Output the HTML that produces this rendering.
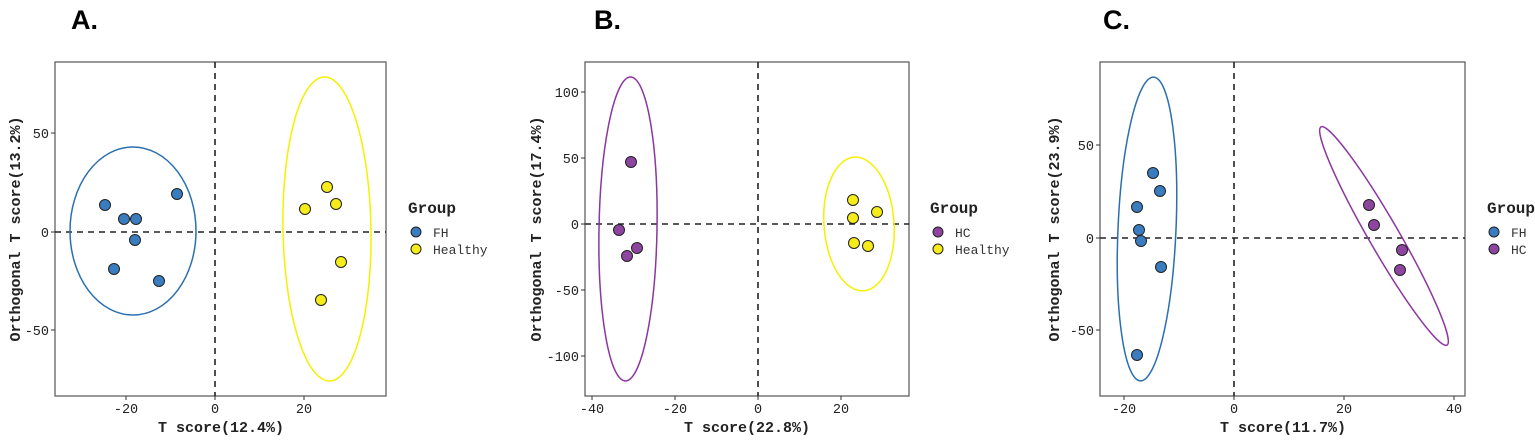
<!DOCTYPE html>
<html><head><meta charset="utf-8"><style>
body{margin:0;background:#fff}
svg text{font-family:"Liberation Mono",monospace;fill:#222}
.tk{font-size:13.5px;fill:#333}
.ax{font-size:15px;font-weight:bold}
.ttl{font-family:"Liberation Sans",sans-serif;font-size:27px;font-weight:bold;fill:#000}
.lg{font-size:16px;font-weight:bold}
.lt{font-size:13px;fill:#333}
.d{stroke:#222;stroke-width:1.6;stroke-dasharray:6,5;fill:none}
.bx{fill:none;stroke:#555;stroke-width:1.2}
.b{fill:#3a7cc0;stroke:#222;stroke-width:1}
.y{fill:#f5ec1a;stroke:#222;stroke-width:1}
.p{fill:#8d45a0;stroke:#222;stroke-width:1}
</style></head><body>
<svg width="1535" height="438" viewBox="0 0 1535 438">
<!-- Panel A -->
<text class="ttl" x="71" y="29">A.</text>
<rect class="bx" x="55" y="62" width="331" height="334"/>
<line class="d" x1="215" y1="62" x2="215" y2="396"/>
<line class="d" x1="55" y1="232" x2="386" y2="232"/>
<ellipse cx="133" cy="231" rx="63" ry="84" fill="none" stroke="#2a6fb0" stroke-width="1.5"/>
<ellipse cx="327" cy="229" rx="44" ry="152" fill="none" stroke="#f5f000" stroke-width="1.5" transform="rotate(-1 327 229)"/>
<g class="b"><circle cx="105" cy="205" r="5.5"/><circle cx="124" cy="219" r="5.5"/><circle cx="136" cy="219" r="5.5"/><circle cx="135" cy="240" r="5.5"/><circle cx="114" cy="269" r="5.5"/><circle cx="159" cy="281" r="5.5"/><circle cx="177" cy="194" r="5.5"/></g>
<g class="y"><circle cx="305" cy="209" r="5.5"/><circle cx="327" cy="187" r="5.5"/><circle cx="336" cy="204" r="5.5"/><circle cx="341" cy="262" r="5.5"/><circle cx="321" cy="300" r="5.5"/></g>
<g stroke="#333"><line x1="126" y1="396" x2="126" y2="400"/><line x1="215" y1="396" x2="215" y2="400"/><line x1="304" y1="396" x2="304" y2="400"/><line x1="51" y1="133" x2="55" y2="133"/><line x1="51" y1="232" x2="55" y2="232"/><line x1="51" y1="330" x2="55" y2="330"/></g>
<g class="tk" text-anchor="middle"><text x="126" y="413">-20</text><text x="215" y="413">0</text><text x="304" y="413">20</text></g>
<g class="tk" text-anchor="end"><text x="49" y="138">50</text><text x="49" y="237">0</text><text x="49" y="335">-50</text></g>
<text class="ax" x="221" y="432" text-anchor="middle">T score(12.4%)</text>
<text class="ax" transform="translate(20 229) rotate(-90)" text-anchor="middle">Orthogonal T score(13.2%)</text>
<text class="lg" x="408" y="213">Group</text>
<circle class="b" cx="416" cy="232" r="5"/><circle class="y" cx="416" cy="249" r="5"/>
<text class="lt" x="433" y="237">FH</text><text class="lt" x="433" y="254">Healthy</text>

<!-- Panel B -->
<text class="ttl" x="594" y="29">B.</text>
<rect class="bx" x="585" y="62" width="324" height="334"/>
<line class="d" x1="758" y1="62" x2="758" y2="396"/>
<line class="d" x1="585" y1="224" x2="909" y2="224"/>
<ellipse cx="628" cy="229" rx="29" ry="152" fill="none" stroke="#8d35a0" stroke-width="1.5" transform="rotate(1 628 229)"/>
<ellipse cx="859" cy="224" rx="35" ry="67" fill="none" stroke="#f5f000" stroke-width="1.5" transform="rotate(-4 859 224)"/>
<g class="p"><circle cx="631" cy="162" r="5.5"/><circle cx="619" cy="230" r="5.5"/><circle cx="637" cy="248" r="5.5"/><circle cx="627" cy="256" r="5.5"/></g>
<g class="y"><circle cx="853" cy="200" r="5.5"/><circle cx="853" cy="218" r="5.5"/><circle cx="877" cy="212" r="5.5"/><circle cx="854" cy="243" r="5.5"/><circle cx="868" cy="246" r="5.5"/></g>
<g stroke="#333"><line x1="592" y1="396" x2="592" y2="400"/><line x1="675" y1="396" x2="675" y2="400"/><line x1="758" y1="396" x2="758" y2="400"/><line x1="841" y1="396" x2="841" y2="400"/><line x1="581" y1="92" x2="585" y2="92"/><line x1="581" y1="158" x2="585" y2="158"/><line x1="581" y1="224" x2="585" y2="224"/><line x1="581" y1="290" x2="585" y2="290"/><line x1="581" y1="356" x2="585" y2="356"/></g>
<g class="tk" text-anchor="middle"><text x="592" y="413">-40</text><text x="675" y="413">-20</text><text x="758" y="413">0</text><text x="841" y="413">20</text></g>
<g class="tk" text-anchor="end"><text x="579" y="97">100</text><text x="579" y="163">50</text><text x="579" y="229">0</text><text x="579" y="295">-50</text><text x="579" y="361">-100</text></g>
<text class="ax" x="747" y="432" text-anchor="middle">T score(22.8%)</text>
<text class="ax" transform="translate(541 229) rotate(-90)" text-anchor="middle">Orthogonal T score(17.4%)</text>
<text class="lg" x="930" y="213">Group</text>
<circle class="p" cx="938" cy="232" r="5"/><circle class="y" cx="938" cy="249" r="5"/>
<text class="lt" x="955" y="237">HC</text><text class="lt" x="955" y="254">Healthy</text>

<!-- Panel C -->
<text class="ttl" x="1103" y="29">C.</text>
<rect class="bx" x="1100" y="62" width="365" height="334"/>
<line class="d" x1="1234" y1="62" x2="1234" y2="396"/>
<line class="d" x1="1100" y1="238" x2="1465" y2="238"/>
<ellipse cx="1147" cy="229" rx="29" ry="152" fill="none" stroke="#2a6fb0" stroke-width="1.5" transform="rotate(2.5 1147 229)"/>
<ellipse cx="1384" cy="236" rx="126" ry="15" fill="none" stroke="#8d35a0" stroke-width="1.5" transform="rotate(60 1384 236)"/>
<g class="b"><circle cx="1153" cy="173" r="5.5"/><circle cx="1160" cy="191" r="5.5"/><circle cx="1137" cy="207" r="5.5"/><circle cx="1139" cy="230" r="5.5"/><circle cx="1141" cy="241" r="5.5"/><circle cx="1161" cy="267" r="5.5"/><circle cx="1137" cy="355" r="5.5"/></g>
<g class="p"><circle cx="1369" cy="205" r="5.5"/><circle cx="1374" cy="225" r="5.5"/><circle cx="1402" cy="250" r="5.5"/><circle cx="1400" cy="270" r="5.5"/></g>
<g stroke="#333"><line x1="1124" y1="396" x2="1124" y2="400"/><line x1="1234" y1="396" x2="1234" y2="400"/><line x1="1344" y1="396" x2="1344" y2="400"/><line x1="1454" y1="396" x2="1454" y2="400"/><line x1="1096" y1="145" x2="1100" y2="145"/><line x1="1096" y1="238" x2="1100" y2="238"/><line x1="1096" y1="330" x2="1100" y2="330"/></g>
<g class="tk" text-anchor="middle"><text x="1124" y="413">-20</text><text x="1234" y="413">0</text><text x="1344" y="413">20</text><text x="1454" y="413">40</text></g>
<g class="tk" text-anchor="end"><text x="1094" y="150">50</text><text x="1094" y="243">0</text><text x="1094" y="335">-50</text></g>
<text class="ax" x="1283" y="432" text-anchor="middle">T score(11.7%)</text>
<text class="ax" transform="translate(1059 229) rotate(-90)" text-anchor="middle">Orthogonal T score(23.9%)</text>
<text class="lg" x="1487" y="213">Group</text>
<circle class="b" cx="1494" cy="232" r="5"/><circle class="p" cx="1494" cy="249" r="5"/>
<text class="lt" x="1511" y="237">FH</text><text class="lt" x="1511" y="254">HC</text>
</svg>
</body></html>
